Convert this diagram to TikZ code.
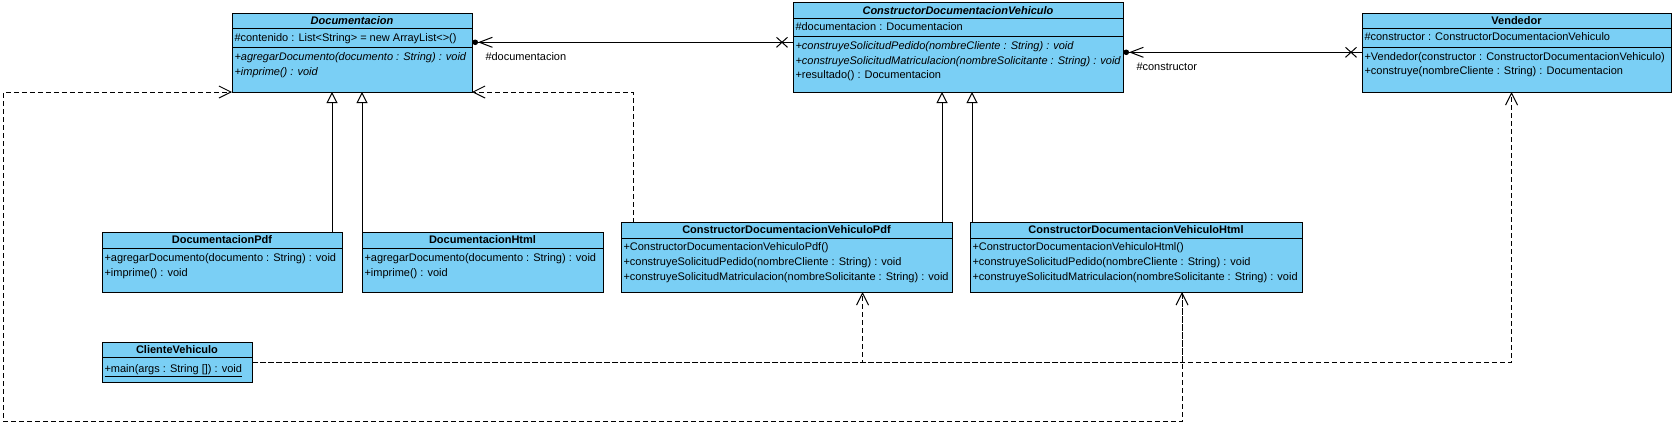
\documentclass[tikz,border=0pt]{standalone}
\usepackage{fontspec}
\setmainfont{Liberation Sans}
\usetikzlibrary{arrows.meta}
\definecolor{clsblue}{RGB}{122,207,245}
\tikzset{
  cls/.style={draw=black, fill=clsblue, line width=1pt, anchor=north west, inner sep=0pt, outer sep=0pt},
  ttl/.style={font=\fontsize{11}{13}\selectfont\bfseries, inner sep=0pt, text height=8, text depth=0.5},
  mem/.style={anchor=west, inner sep=0pt, text height=8, text depth=0.5},
  lbl/.style={anchor=west, inner sep=0pt, text height=8, text depth=0.5},
  divline/.style={line width=1pt},
  gen/.style={-{Triangle[open,length=11,width=11]}},
  dep/.style={dash pattern=on 5pt off 3pt, -{Straight Barb[length=12,width=12]}},
  depback/.style={dash pattern=on 5pt off 3pt, {Straight Barb[length=12,width=12]}-},
  assoc/.style={{Circle[length=5.5,sep=0.5pt]Straight Barb[length=13,width=10]}-},
  xmark/.pic={\draw[line width=1pt] (-5.5,-5) -- (5.5,5) (-5.5,5) -- (5.5,-5);}
}
\begin{document}
\begin{tikzpicture}[x=1pt, y=-1pt, line width=1pt, font=\fontsize{11}{13}\selectfont]
\path[use as bounding box, fill=white] (0,0) rectangle (1676,426);

% Documentacion
\node[cls, minimum width=240, minimum height=79] (doc) at (232,13) {};
\draw[divline] ([yshift=-15]doc.north west) -- ([yshift=-15]doc.north east);
\draw[divline] ([yshift=-34]doc.north west) -- ([yshift=-34]doc.north east);
\node[ttl] (doc-t) at (352,20.5) {\textit{Documentacion}};
\node[mem] (doc-a1) at (234,37.5) {\#contenido : List<String> = new ArrayList<>()};
\node[mem] (doc-o1) at (234,56.5) {\textit{+agregarDocumento(documento : String) : void}};
\node[mem] (doc-o2) at (234,71.5) {\textit{+imprime() : void}};

% ConstructorDocumentacionVehiculo
\node[cls, minimum width=330, minimum height=90] (cdv) at (793,2) {};
\draw[divline] ([yshift=-16.5]cdv.north west) -- ([yshift=-16.5]cdv.north east);
\draw[divline] ([yshift=-34]cdv.north west) -- ([yshift=-34]cdv.north east);
\node[ttl] (cdv-t) at (958,10.5) {\textit{ConstructorDocumentacionVehiculo}};
\node[mem] (cdv-a1) at (795,27) {\#documentacion : Documentacion};
\node[mem] (cdv-o1) at (795,46) {\textit{+construyeSolicitudPedido(nombreCliente : String) : void}};
\node[mem] (cdv-o2) at (795,60.5) {\textit{+construyeSolicitudMatriculacion(nombreSolicitante : String) : void}};
\node[mem] (cdv-o3) at (795,75) {+resultado() : Documentacion};

% Vendedor
\node[cls, minimum width=309, minimum height=79] (ven) at (1362,13) {};
\draw[divline] ([yshift=-15]ven.north west) -- ([yshift=-15]ven.north east);
\draw[divline] ([yshift=-34]ven.north west) -- ([yshift=-34]ven.north east);
\node[ttl] (ven-t) at (1516.5,20.5) {Vendedor};
\node[mem] (ven-a1) at (1364,37) {\#constructor : ConstructorDocumentacionVehiculo};
\node[mem] (ven-o1) at (1364,56.5) {+Vendedor(constructor : ConstructorDocumentacionVehiculo)};
\node[mem] (ven-o2) at (1364,71) {+construye(nombreCliente : String) : Documentacion};

% DocumentacionPdf
\node[cls, minimum width=240, minimum height=60] (dpdf) at (102,232) {};
\draw[divline] ([yshift=-16]dpdf.north west) -- ([yshift=-16]dpdf.north east);
\node[ttl] (dpdf-t) at (222,240) {DocumentacionPdf};
\node[mem] (dpdf-o1) at (104,257.5) {+agregarDocumento(documento : String) : void};
\node[mem] (dpdf-o2) at (104,272.5) {+imprime() : void};

% DocumentacionHtml
\node[cls, minimum width=241, minimum height=60] (dhtml) at (362,232) {};
\draw[divline] ([yshift=-16]dhtml.north west) -- ([yshift=-16]dhtml.north east);
\node[ttl] (dhtml-t) at (482.5,240) {DocumentacionHtml};
\node[mem] (dhtml-o1) at (364,257.5) {+agregarDocumento(documento : String) : void};
\node[mem] (dhtml-o2) at (364,272.5) {+imprime() : void};

% ConstructorDocumentacionVehiculoPdf
\node[cls, minimum width=331, minimum height=69.5] (cpdf) at (621,222.5) {};
\draw[divline] ([yshift=-15.5]cpdf.north west) -- ([yshift=-15.5]cpdf.north east);
\node[ttl] (cpdf-t) at (786.5,230) {ConstructorDocumentacionVehiculoPdf};
\node[mem] (cpdf-o1) at (623,247) {+ConstructorDocumentacionVehiculoPdf()};
\node[mem] (cpdf-o2) at (623,262) {+construyeSolicitudPedido(nombreCliente : String) : void};
\node[mem] (cpdf-o3) at (623,276.5) {+construyeSolicitudMatriculacion(nombreSolicitante : String) : void};

% ConstructorDocumentacionVehiculoHtml
\node[cls, minimum width=332, minimum height=69.5] (chtml) at (970,222.5) {};
\draw[divline] ([yshift=-15.5]chtml.north west) -- ([yshift=-15.5]chtml.north east);
\node[ttl] (chtml-t) at (1136,230) {ConstructorDocumentacionVehiculoHtml};
\node[mem] (chtml-o1) at (972,247) {+ConstructorDocumentacionVehiculoHtml()};
\node[mem] (chtml-o2) at (972,262) {+construyeSolicitudPedido(nombreCliente : String) : void};
\node[mem] (chtml-o3) at (972,276.5) {+construyeSolicitudMatriculacion(nombreSolicitante : String) : void};

% ClienteVehiculo
\node[cls, minimum width=150, minimum height=40] (cli) at (102,342) {};
\draw[divline] ([yshift=-15]cli.north west) -- ([yshift=-15]cli.north east);
\node[ttl] (cli-t) at (177,349.5) {ClienteVehiculo};
\node[mem] (cli-o1) at (104,368.5) {\underline{+main(args : String []) : void}};

% associations
\coordinate (docA) at ([yshift=-29.3]doc.north east);
\coordinate (cdvL) at (docA -| cdv.west);
\draw[assoc] (docA) -- (cdvL);
\pic at ([xshift=-11]cdvL) {xmark};
\node[lbl] (docLbl) at (485,57) {\#documentacion};
\coordinate (cdvA) at ([yshift=-50.3]cdv.north east);
\coordinate (venL) at (cdvA -| ven.west);
\draw[assoc] (cdvA) -- (venL);
\pic at ([xshift=-11]venL) {xmark};
\node[lbl] (venLbl) at (1136,67) {\#constructor};

% generalizations
\draw[gen] ([xshift=-10]dpdf.north east) -- ([xshift=-10]dpdf.north east |- doc.south);
\draw[gen] (dhtml.north west) -- (dhtml.north west |- doc.south);
\draw[gen] ([xshift=-10]cpdf.north east) -- ([xshift=-10]cpdf.north east |- cdv.south);
\draw[gen] ([xshift=2]chtml.north west) -- ([xshift=2]chtml.north west |- cdv.south);

% dependencies
\coordinate (bend) at (3.5,421.5);
\draw[dep] ([xshift=12]cpdf.north west) |- (doc.south east);
\draw[dep] ([xshift=46]chtml.south) |- (bend) |- (doc.south west);
\draw[dep] (cli.east) -| ([xshift=76]cpdf.south);
\draw[depback] ([xshift=46]chtml.south) |- (cli.east);
\draw[dep] (cli.east) -| ([xshift=-5]ven.south);
\end{tikzpicture}
\end{document}
